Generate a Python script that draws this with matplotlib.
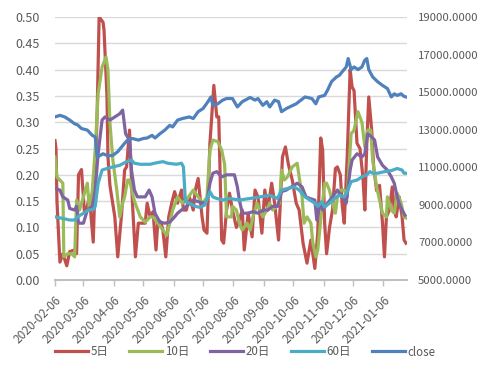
import matplotlib
matplotlib.use("Agg")
import matplotlib.pyplot as plt
import pandas as pd
import numpy as np

plt.rcParams['font.family'] = ['Noto Sans CJK SC', 'DejaVu Sans']

start = pd.Timestamp('2020-02-06')

# day offsets from 2020-02-06 and values for each series
d5_days = [0,1,2,5,8,12,15,20,22,24,27,30,32,35,39,43,45,49,50,53,54,56,61,64,68,71,73,76,79,82,85,92,94,97,100,103,105,108,110,113,116,119,122,125,129,131,134,137,141,143,146,150,152,155,158,162,165,167,170,172,175,178,181,185,188,191,193,197,201,204,207,211,214,217,221,224,228,232,235,238,242,246,249,253,257,261,265,268,271,273,275,277,280,283,286,288,291,293,295,298,301,303,305,308,311,314,316,318,320,323,325,328,331,334,336,338,341,344,346,348,351,354,356,358]
d5_vals = [0.265,0.25,0.15,0.034,0.05,0.027,0.054,0.057,0.05,0.20,0.21,0.13,0.13,0.16,0.072,0.32,0.50,0.49,0.475,0.35,0.234,0.18,0.12,0.044,0.127,0.209,0.215,0.285,0.146,0.044,0.108,0.108,0.146,0.12,0.13,0.057,0.114,0.11,0.095,0.044,0.12,0.146,0.168,0.146,0.171,0.133,0.133,0.158,0.133,0.17,0.193,0.12,0.095,0.089,0.26,0.37,0.31,0.31,0.076,0.07,0.133,0.165,0.133,0.10,0.114,0.133,0.057,0.127,0.082,0.171,0.158,0.089,0.171,0.133,0.184,0.146,0.076,0.234,0.253,0.22,0.19,0.146,0.133,0.07,0.032,0.076,0.022,0.09,0.27,0.247,0.108,0.05,0.10,0.133,0.212,0.215,0.2,0.14,0.108,0.234,0.40,0.367,0.36,0.26,0.25,0.196,0.133,0.26,0.348,0.285,0.215,0.17,0.18,0.108,0.044,0.12,0.133,0.177,0.133,0.12,0.158,0.12,0.076,0.07]

d10_days = [0,2,5,8,9,13,17,20,22,25,29,33,35,38,41,44,48,52,54,56,59,63,66,69,71,74,76,81,87,92,97,100,105,110,114,117,120,125,130,135,141,146,151,155,158,161,166,170,173,175,180,181,185,188,191,196,199,202,206,209,212,216,219,222,226,229,231,234,237,242,247,252,254,257,261,263,266,268,272,275,277,280,283,286,288,292,295,298,302,305,309,313,316,319,322,324,328,331,334,338,339,343,346,349,353,356,358]
d10_vals = [0.234,0.196,0.19,0.184,0.044,0.05,0.05,0.044,0.152,0.133,0.158,0.184,0.133,0.17,0.247,0.354,0.405,0.424,0.40,0.30,0.228,0.171,0.12,0.146,0.158,0.19,0.19,0.15,0.12,0.11,0.12,0.12,0.108,0.095,0.085,0.108,0.133,0.158,0.146,0.155,0.171,0.158,0.146,0.158,0.247,0.266,0.263,0.247,0.22,0.12,0.12,0.14,0.133,0.108,0.095,0.108,0.095,0.12,0.146,0.133,0.12,0.133,0.146,0.133,0.14,0.146,0.209,0.19,0.196,0.215,0.222,0.158,0.108,0.12,0.108,0.07,0.044,0.057,0.133,0.184,0.184,0.17,0.146,0.127,0.158,0.171,0.171,0.158,0.278,0.285,0.32,0.30,0.253,0.285,0.285,0.228,0.177,0.152,0.127,0.12,0.158,0.133,0.127,0.165,0.146,0.12,0.118]

d20_days = [0,5,8,13,15,20,22,24,29,33,38,41,44,48,51,56,61,66,69,72,76,78,81,84,92,96,99,102,107,112,117,122,125,129,134,141,146,151,155,158,161,165,170,175,183,186,188,191,197,202,207,212,217,222,227,231,236,241,247,252,256,260,265,267,270,273,278,283,288,293,297,301,303,308,313,316,319,323,326,329,334,339,343,346,349,351,354,357]
d20_vals = [0.174,0.171,0.158,0.152,0.136,0.133,0.14,0.108,0.108,0.133,0.14,0.171,0.24,0.304,0.31,0.304,0.31,0.316,0.323,0.278,0.266,0.209,0.171,0.158,0.158,0.171,0.158,0.127,0.11,0.108,0.11,0.12,0.127,0.133,0.14,0.152,0.149,0.146,0.149,0.184,0.203,0.206,0.196,0.2,0.2,0.177,0.152,0.127,0.127,0.13,0.127,0.133,0.133,0.14,0.14,0.168,0.171,0.177,0.184,0.177,0.158,0.155,0.152,0.114,0.146,0.133,0.146,0.158,0.171,0.158,0.146,0.209,0.228,0.24,0.234,0.24,0.278,0.272,0.266,0.234,0.218,0.209,0.196,0.184,0.158,0.146,0.133,0.123]

d60_days = [0,8,15,20,23,29,34,39,41,44,48,53,59,66,73,78,81,87,97,104,110,115,124,129,131,133,137,143,148,153,158,161,165,171,178,188,199,209,219,227,231,237,244,249,255,260,265,268,272,275,280,285,290,295,298,302,308,313,318,321,324,329,336,343,349,354,356,358]
d60_vals = [0.12,0.117,0.114,0.114,0.12,0.127,0.133,0.134,0.14,0.184,0.209,0.212,0.215,0.218,0.225,0.228,0.222,0.22,0.22,0.223,0.225,0.222,0.22,0.222,0.215,0.149,0.146,0.14,0.138,0.143,0.168,0.158,0.155,0.152,0.155,0.152,0.155,0.158,0.161,0.155,0.171,0.174,0.177,0.171,0.158,0.152,0.146,0.14,0.149,0.139,0.146,0.155,0.161,0.158,0.168,0.187,0.19,0.196,0.2,0.206,0.203,0.203,0.206,0.208,0.212,0.209,0.203,0.203]

close_days = [0,5,10,15,20,23,27,33,38,41,43,45,49,54,59,64,68,71,74,79,85,90,94,99,102,107,112,117,120,125,130,137,141,146,151,156,159,161,166,171,175,181,186,191,199,204,207,212,216,219,224,228,231,236,246,255,262,266,269,275,278,282,287,290,293,297,299,302,305,309,313,316,318,320,324,329,334,339,343,346,349,353,356,358]
close_vals = [13680,13764,13680,13512,13316,13260,13064,12980,12700,12616,11552,11600,11720,11608,11636,11832,12084,12280,12448,12532,12448,12532,12560,12700,12560,12784,12980,13232,13148,13512,13596,13680,13596,13960,14128,14492,14744,14296,14380,14576,14660,14660,14212,14492,14716,14576,14660,14296,14492,14212,14576,14492,13960,14128,14380,14744,14660,14380,14744,14828,15108,15556,15808,15892,16088,16340,16788,16200,16340,16200,16340,16704,16788,16200,15808,15556,15360,15192,14744,14912,14828,14912,14772,14744]

tick_labels = ['2020-02-06','2020-03-06','2020-04-06','2020-05-06','2020-06-06','2020-07-06',
               '2020-08-06','2020-09-06','2020-10-06','2020-11-06','2020-12-06','2021-01-06']

def to_dates(days):
    return [start + pd.Timedelta(days=int(d)) for d in days]

colors = {'5日': '#C0504D', '10日': '#9BBB59', '20日': '#8064A2', '60日': '#4BACC6', 'close': '#4F81BD'}
lw = 2.3
tc = '#595959'

fig = plt.figure(figsize=(4.82, 3.82), dpi=100)
ax = fig.add_axes([55/482, 1-280/382, (407-55)/482, (280-17)/382])
ax2 = ax.twinx()

h = []
for name, days, vals in [('5日', d5_days, d5_vals), ('10日', d10_days, d10_vals),
                         ('20日', d20_days, d20_vals), ('60日', d60_days, d60_vals)]:
    l, = ax.plot(to_dates(days), vals, color=colors[name], lw=lw, label=name, solid_joinstyle='round')
    h.append(l)
l, = ax2.plot(to_dates(close_days), close_vals, color=colors['close'], lw=lw, label='close', solid_joinstyle='round')
h.append(l)

ax.set_ylim(0, 0.5)
ax.set_yticks(np.arange(0, 0.5001, 0.05))
ax.yaxis.set_major_formatter(matplotlib.ticker.FormatStrFormatter('%.2f'))
ax2.set_ylim(5000, 19000)
ax2.set_yticks(np.arange(5000, 19001, 2000))
ax2.yaxis.set_major_formatter(matplotlib.ticker.FormatStrFormatter('%.4f'))

ax.set_xlim(start, start + pd.Timedelta(days=359))
ticks = [pd.Timestamp(t) for t in tick_labels]
ax.set_xticks(ticks)
ax.set_xticklabels(tick_labels, rotation=45, ha='right', rotation_mode='anchor')

ax.grid(axis='y', color='#D9D9D9', lw=1.0)
ax.set_axisbelow(True)
for a in (ax, ax2):
    for s in ['top', 'left', 'right', 'bottom']:
        a.spines[s].set_visible(False)
ax.spines['bottom'].set_visible(True)
ax.spines['bottom'].set_color('#BFBFBF')
ax.spines['bottom'].set_linewidth(1.5)

ax.tick_params(axis='y', length=0, labelsize=9, labelcolor=tc, pad=11)
ax2.tick_params(axis='y', length=0, labelsize=8.2, labelcolor=tc, pad=8)
ax.tick_params(axis='x', length=4, width=1, color='#BFBFBF', labelsize=8.5, labelcolor=tc, pad=6)

fig.legend(h, [x.get_label() for x in h], loc='center', bbox_to_anchor=(245/482, 1-352/382),
           ncol=5, frameon=False, handlelength=2.9, handletextpad=0.2, columnspacing=1.8,
           fontsize=8.3, labelcolor=tc)

fig.savefig('out.png', dpi=100)
